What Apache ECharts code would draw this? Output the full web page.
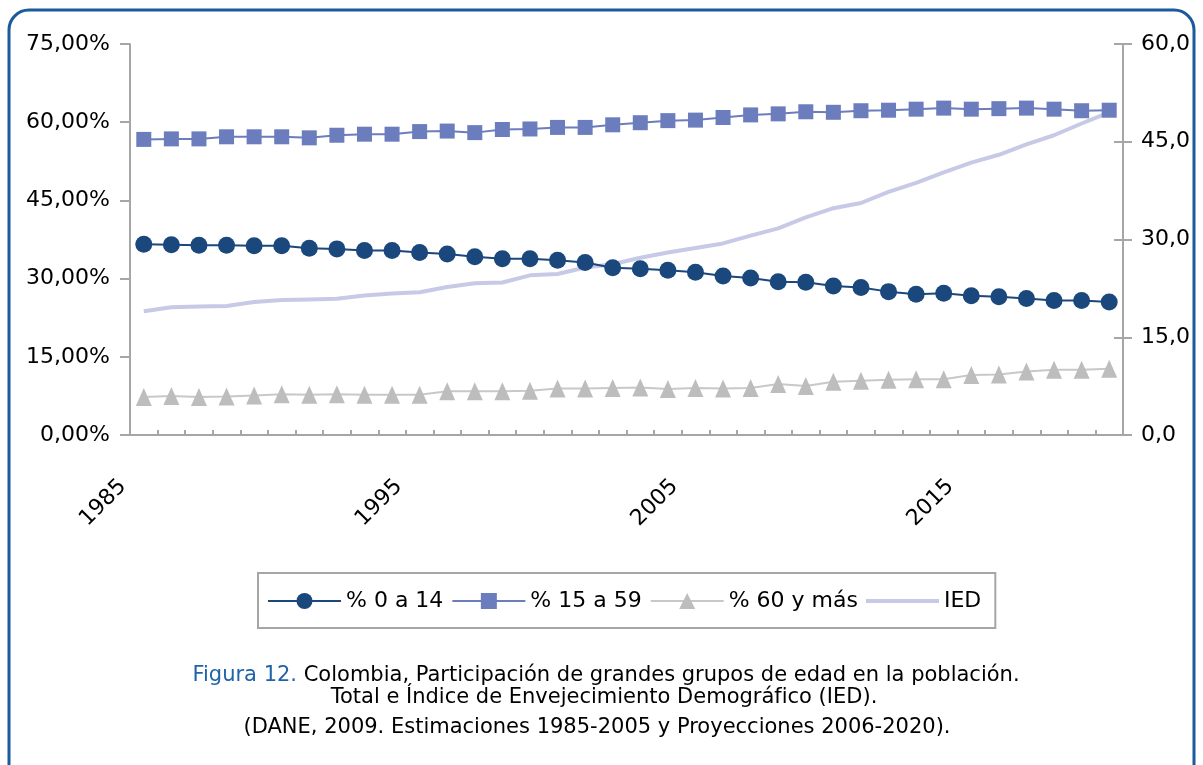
<!DOCTYPE html>
<html lang="es">
<head>
  <meta charset="UTF-8">
  <title>Figura 12</title>
  <style>
    html,
    body {
      padding: 0;
      margin: 0;
      background: #fff;
    }
  </style>
  <script src="https://cdn.jsdelivr.net/npm/echarts@6.0.0/dist/echarts.min.js"></script>
</head>
<body>
  <div id="demo" style="width:1203px;height:765px"></div>
  <script>
    const years = []
    for (let y = 1985; y <= 2020; y++) years.push(String(y))
    const labelYears = ['1985', '1995', '2005', '2015']

    // % de la población por grupo de edad (eje izquierdo)
    const p0a14 = [36.6, 36.5, 36.4, 36.4, 36.3, 36.3, 35.8, 35.7, 35.4, 35.4, 35.0, 34.7,
      34.2, 33.8, 33.8, 33.5, 33.1, 32.1, 31.9, 31.6, 31.2, 30.5, 30.1, 29.4,
      29.3, 28.6, 28.3, 27.5, 27.0, 27.2, 26.7, 26.5, 26.2, 25.8, 25.8, 25.5]
    const p15a59 = [56.7, 56.8, 56.8, 57.2, 57.2, 57.2, 57.0, 57.5, 57.7, 57.7, 58.2, 58.3,
      58.0, 58.6, 58.7, 59.0, 59.0, 59.5, 59.9, 60.3, 60.4, 60.9, 61.4, 61.6,
      62.0, 61.9, 62.2, 62.3, 62.5, 62.7, 62.5, 62.6, 62.7, 62.5, 62.2, 62.3]
    const p60mas = [7.3, 7.5, 7.3, 7.4, 7.6, 7.8, 7.7, 7.8, 7.7, 7.7, 7.7, 8.4,
      8.4, 8.4, 8.5, 8.9, 8.9, 9.0, 9.1, 8.8, 9.0, 8.9, 9.0, 9.8,
      9.4, 10.2, 10.4, 10.6, 10.7, 10.7, 11.5, 11.6, 12.2, 12.5, 12.5, 12.7]
    // Índice de Envejecimiento Demográfico (eje derecho)
    const ied = [19.0, 19.6, 19.7, 19.8, 20.4, 20.7, 20.8, 20.9, 21.4, 21.7, 21.9, 22.7,
      23.3, 23.4, 24.5, 24.7, 25.7, 26.2, 27.2, 28.0, 28.7, 29.4, 30.6, 31.7,
      33.4, 34.8, 35.6, 37.3, 38.7, 40.3, 41.8, 43.0, 44.6, 46.0, 47.8, 49.5]

    const font = 'DejaVu Sans'
    const axisGray = '#a6a6a6'
    // thick bar for the IED legend entry (tiny dots keep the box 73x20)
    const thickLine = 'path://M0,0h0.1v0.1h-0.1zM0,8h73v4h-73zM0,19.9h0.1v0.1h-0.1z'

    const chart = echarts.init(document.getElementById('demo'))
    chart.setOption({
      animation: false,
      textStyle: { fontFamily: font },
      grid: { left: 130, right: 80, top: 44, bottom: 330 },
      legend: {
        left: 258,
        top: 573,
        padding: [17, 14, 16, 9],
        borderColor: axisGray,
        borderWidth: 2,
        itemWidth: 73,
        itemHeight: 20,
        itemGap: 8,
        textStyle: { fontSize: 22, color: '#000' },
        data: ['% 0 a 14', '% 15 a 59', '% 60 y más', { name: 'IED', icon: thickLine }]
      },
      xAxis: [{
        type: 'category',
        data: years,
        boundaryGap: true,
        axisLine: { lineStyle: { color: axisGray, width: 2 } },
        axisTick: { length: 10, lineStyle: { color: axisGray, width: 2 } },
        axisLabel: { show: false }
      }, {
        type: 'category',
        position: 'bottom',
        data: years.concat('2021'),
        boundaryGap: false,
        axisLine: { show: false },
        axisTick: { show: true, inside: true, length: 5, interval: 0, lineStyle: { color: axisGray, width: 2 } },
        axisLabel: {
          interval: (i, v) => labelYears.includes(v),
          rotate: 45,
          margin: 41,
          padding: [0, 10, 0, 0],
          fontSize: 22,
          color: '#000'
        }
      }],
      yAxis: [{
        type: 'value',
        min: 0,
        max: 75,
        interval: 15,
        splitLine: { show: false },
        axisLine: { show: true, lineStyle: { color: axisGray, width: 2 } },
        axisTick: { show: true, length: 10, lineStyle: { color: axisGray, width: 2 } },
        axisLabel: {
          fontSize: 22,
          color: '#000',
          margin: 20,
          formatter: v => v.toFixed(2).replace('.', ',') + '%'
        }
      }, {
        type: 'value',
        min: 0,
        max: 60,
        interval: 15,
        position: 'right',
        splitLine: { show: false },
        axisLine: { show: true, lineStyle: { color: axisGray, width: 2 } },
        axisTick: { show: true, length: 9, lineStyle: { color: axisGray, width: 2 } },
        axisLabel: {
          fontSize: 22,
          color: '#000',
          margin: 18,
          formatter: v => v.toFixed(1).replace('.', ',')
        }
      }, {
        type: 'value',
        min: 0,
        max: 60,
        interval: 15,
        position: 'right',
        splitLine: { show: false },
        axisLine: { show: false },
        axisTick: { show: true, inside: true, length: 9, lineStyle: { color: axisGray, width: 2 } },
        axisLabel: { show: false }
      }],
      series: [{
        name: 'IED',
        type: 'line',
        yAxisIndex: 1,
        data: ied,
        symbol: 'none',
        lineStyle: { color: '#c6cae6', width: 4 },
        itemStyle: { color: '#c6cae6' }
      }, {
        name: '% 0 a 14',
        type: 'line',
        data: p0a14,
        symbol: 'circle',
        symbolSize: 17,
        lineStyle: { color: '#1a477c', width: 2 },
        itemStyle: { color: '#1a477c' }
      }, {
        name: '% 15 a 59',
        type: 'line',
        data: p15a59,
        symbol: 'rect',
        symbolSize: 15,
        lineStyle: { color: '#6b7dbd', width: 2 },
        itemStyle: { color: '#6b7dbd' }
      }, {
        name: '% 60 y más',
        type: 'line',
        data: p60mas,
        symbol: 'triangle',
        symbolSize: [16, 18],
        lineStyle: { color: '#c8c8c8', width: 2 },
        itemStyle: { color: '#bdbdbd' }
      }],
      graphic: [{
        type: 'rect',
        shape: { x: 9, y: 10, width: 1185, height: 790, r: 20 },
        style: { fill: 'none', stroke: '#1b5a9c', lineWidth: 3 },
        silent: true
      }, {
        type: 'text',
        x: 606,
        y: 676,
        style: {
          text: '{b|Figura 12.} Colombia, Participación de grandes grupos de edad en la población.',
          align: 'center',
          verticalAlign: 'middle',
          font: '21px "DejaVu Sans"',
          fill: '#000',
          rich: { b: { fill: '#1f63a8', font: '21px "DejaVu Sans"' } }
        }
      }, {
        type: 'text',
        x: 604,
        y: 698,
        style: {
          text: 'Total e Índice de Envejecimiento Demográfico (IED).',
          align: 'center',
          verticalAlign: 'middle',
          font: '21px "DejaVu Sans"',
          fill: '#000'
        }
      }, {
        type: 'text',
        x: 597,
        y: 728,
        style: {
          text: '(DANE, 2009. Estimaciones 1985-2005 y Proyecciones 2006-2020).',
          align: 'center',
          verticalAlign: 'middle',
          font: '21px "DejaVu Sans"',
          fill: '#000'
        }
      }]
    })
  </script>
</body>
</html>
